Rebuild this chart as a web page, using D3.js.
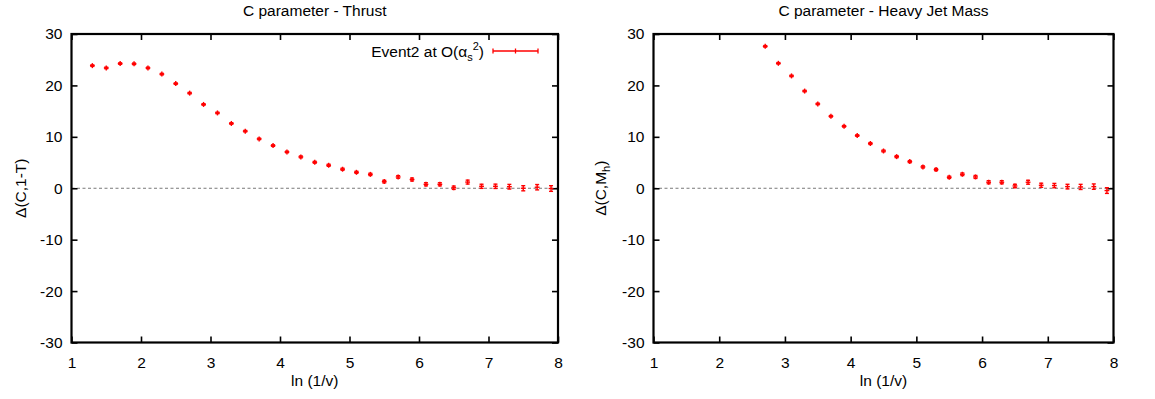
<!DOCTYPE html>
<html><head><meta charset="utf-8">
<script src="https://cdn.jsdelivr.net/npm/d3@7"></script>
<style>
body{margin:0;background:#fff;}
svg{display:block;font-family:"Liberation Sans",Arial,Helvetica,sans-serif;}
</style></head><body>
<svg id="c" width="1155" height="399"></svg>
<script>
const xThrust = [1.3,1.5,1.7,1.9,2.1,2.3,2.5,2.7,2.9,3.1,3.3,3.5,3.7,3.9,4.1,4.3,4.5,4.7,4.9,5.1,5.3,5.5,5.7,5.9,6.1,6.3,6.5,6.7,6.9,7.1,7.3,7.5,7.7,7.9];
const yThrust = [23.85,23.4,24.25,24.2,23.4,22.2,20.35,18.5,16.3,14.65,12.6,11.1,9.6,8.3,7.06,6.1,5.05,4.47,3.7,3.1,2.7,1.3,2.2,1.7,0.77,0.77,0.1,1.2,0.38,0.38,0.3,0.0,0.2,-0.05];
const eThrust = [0.15,0.15,0.15,0.15,0.15,0.15,0.15,0.15,0.15,0.15,0.15,0.15,0.15,0.15,0.15,0.18,0.18,0.2,0.2,0.2,0.22,0.25,0.25,0.28,0.3,0.3,0.32,0.38,0.4,0.42,0.45,0.5,0.52,0.55];
const xHJM = [2.7,2.9,3.1,3.3,3.5,3.7,3.9,4.1,4.3,4.5,4.7,4.9,5.1,5.3,5.5,5.7,5.9,6.1,6.3,6.5,6.7,6.9,7.1,7.3,7.5,7.7,7.9];
const yHJM = [27.6,24.3,21.85,18.9,16.4,14.0,12.05,10.25,8.7,7.25,6.15,5.18,4.15,3.63,2.13,2.72,2.2,1.17,1.17,0.45,1.17,0.58,0.52,0.32,0.26,0.32,-0.45];
const eHJM = [0.15,0.15,0.15,0.15,0.15,0.15,0.15,0.15,0.18,0.18,0.2,0.2,0.2,0.22,0.22,0.25,0.28,0.3,0.3,0.32,0.38,0.4,0.42,0.45,0.5,0.52,0.55];
const xTicks = [1,2,3,4,5,6,7,8];
const yTicks = [-30,-20,-10,0,10,20,30];
const titles = ["C parameter - Thrust","C parameter - Heavy Jet Mass"];
const xLabel = "ln (1/v)";
const legendText = "Event2 at O(";

const svg = d3.select("#c");
const red = "#ff0000";
const FS = 15.5, SFS = 11;
const fmt = d => String(d);

function panel(opts){
  const {left,right,top,bottom,xs,ys,es,title,ylab,legend,ylabX} = opts;
  const x = d3.scaleLinear().domain([1,8]).range([left,right]);
  const y = d3.scaleLinear().domain([-30,30]).range([bottom,top]);
  const g = svg.append("g");
  g.append("line").attr("x1",x(1)).attr("x2",x(8)).attr("y1",y(0)).attr("y2",y(0))
    .attr("stroke","#555").attr("stroke-width",0.8).attr("stroke-dasharray","3,2.5");
  const tl = 6;
  const styleText = a=>a.selectAll("text").attr("font-size",FS).attr("fill","#000").attr("font-family","Liberation Sans, Arial, sans-serif");
  g.append("g").attr("transform",`translate(0,${bottom})`).call(d3.axisBottom(x).tickValues(xTicks).tickSize(-tl).tickPadding(14).tickFormat(fmt))
    .call(a=>{a.select(".domain").remove();a.selectAll("line").attr("stroke","#000").attr("stroke-width",1.6);styleText(a);});
  g.append("g").attr("transform",`translate(0,${top})`).call(d3.axisTop(x).tickValues(xTicks).tickSize(-tl).tickFormat(""))
    .call(a=>{a.select(".domain").remove();a.selectAll("line").attr("stroke","#000").attr("stroke-width",1.6);});
  g.append("g").attr("transform",`translate(${left},0)`).call(d3.axisLeft(y).tickValues(yTicks).tickSize(-tl).tickPadding(9).tickFormat(fmt))
    .call(a=>{a.select(".domain").remove();a.selectAll("line").attr("stroke","#000").attr("stroke-width",1.6);styleText(a);});
  g.append("g").attr("transform",`translate(${right},0)`).call(d3.axisRight(y).tickValues(yTicks).tickSize(-tl).tickFormat(""))
    .call(a=>{a.select(".domain").remove();a.selectAll("line").attr("stroke","#000").attr("stroke-width",1.6);});
  g.append("rect").attr("x",left).attr("y",top).attr("width",right-left).attr("height",bottom-top)
    .attr("fill","none").attr("stroke","#000").attr("stroke-width",2.2);
  const pts = g.append("g").attr("stroke",red).attr("stroke-width",1.4).attr("fill","none");
  xs.forEach((xv,i)=>{
    const cx = x(xv), cy = y(ys[i]), e = es[i];
    const y1 = y(ys[i]-e), y2 = y(ys[i]+e);
    pts.append("line").attr("x1",cx).attr("x2",cx).attr("y1",Math.max(y1,cy+2.5)).attr("y2",Math.min(y2,cy-2.5));
    pts.append("line").attr("x1",cx-2.4).attr("x2",cx+2.4).attr("y1",cy).attr("y2",cy);
    pts.append("line").attr("x1",cx-2).attr("x2",cx+2).attr("y1",y1).attr("y2",y1);
    pts.append("line").attr("x1",cx-2).attr("x2",cx+2).attr("y1",y2).attr("y2",y2);
  });
  svg.append("text").attr("x",(left+right)/2).attr("y",16).attr("text-anchor","middle")
    .attr("font-size",FS).text(title);
  svg.append("text").attr("x",(left+right)/2).attr("y",386).attr("text-anchor","middle")
    .attr("font-size",FS).text(xLabel);
  const yl = svg.append("text").attr("transform",`translate(${ylabX},${(top+bottom)/2}) rotate(-90)`)
    .attr("text-anchor","middle").attr("font-size",FS);
  ylab(yl);
  if(legend){
    const ly = 51;
    const t = svg.append("text").attr("x",484).attr("y",ly+5.5).attr("text-anchor","end").attr("font-size",FS);
    t.append("tspan").text(legendText);
    t.append("tspan").text("α");
    t.append("tspan").attr("font-size",SFS).attr("dy",4).text("s");
    t.append("tspan").attr("font-size",SFS).attr("dy",-11).text("2");
    t.append("tspan").attr("dy",7).text(")");
    const lg = svg.append("g").attr("stroke",red).attr("stroke-width",1.3);
    lg.append("line").attr("x1",493).attr("x2",538).attr("y1",ly).attr("y2",ly);
    [493,515.5,538].forEach(v=>lg.append("line").attr("x1",v).attr("x2",v).attr("y1",ly-2.5).attr("y2",ly+2.5));
  }
}

panel({left:71.5,right:558,top:34,bottom:342.5,xs:xThrust,ys:yThrust,es:eThrust,title:titles[0],legend:true,ylabX:26,
  ylab:t=>{t.text("Δ(C,1-T)");}});
panel({left:653.5,right:1113.5,top:34,bottom:342.5,xs:xHJM,ys:yHJM,es:eHJM,title:titles[1],legend:false,ylabX:606,
  ylab:t=>{t.append("tspan").text("Δ(C,M");t.append("tspan").attr("font-size",SFS).attr("dy",4).text("h");t.append("tspan").attr("dy",-4).text(")");}});
</script>
</body></html>
